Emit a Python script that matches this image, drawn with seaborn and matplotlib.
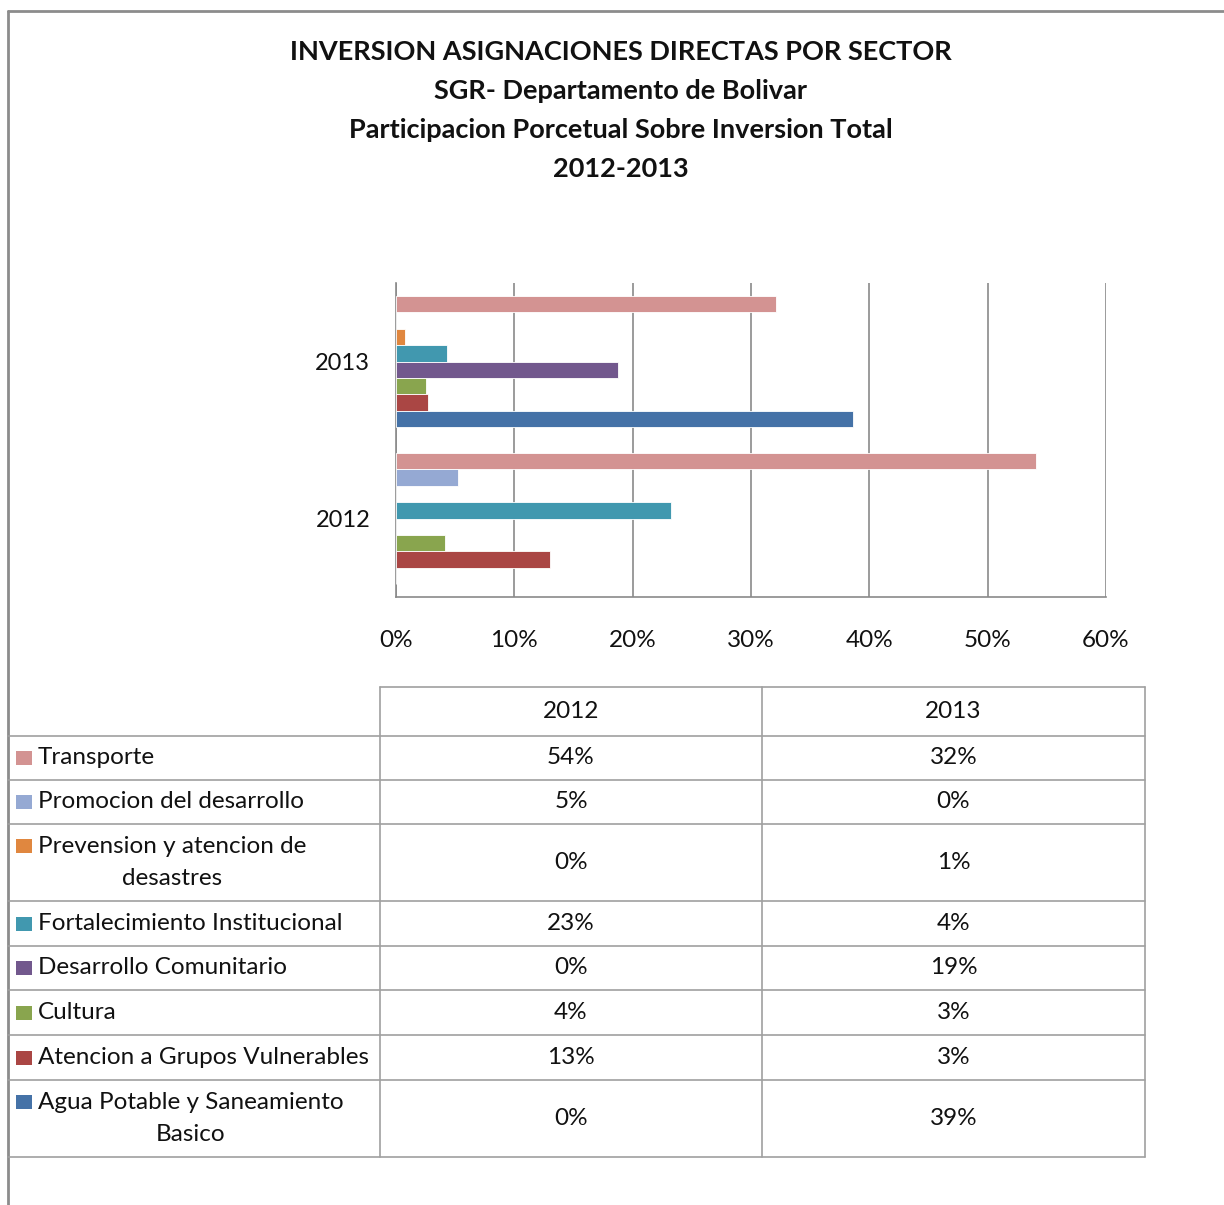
import matplotlib
matplotlib.use("Agg")
import matplotlib.pyplot as plt
import seaborn as sns
import pandas as pd
from matplotlib.lines import Line2D
from matplotlib.patches import Rectangle
from matplotlib.ticker import PercentFormatter

# ---- data ----
years = ["2012", "2013"]
sectors = [
    "Transporte",
    "Promocion del desarrollo",
    "Prevension y atencion de\ndesastres",
    "Fortalecimiento Institucional",
    "Desarrollo Comunitario",
    "Cultura",
    "Atencion a Grupos Vulnerables",
    "Agua Potable y Saneamiento\nBasico",
]
values_2012 = [54.1, 5.2, 0.0, 23.2, 0.0, 4.1, 13.0, 0.0]
values_2013 = [32.1, 0.0, 0.8, 4.3, 18.8, 2.55, 2.7, 38.6]
colors = ["#D39392", "#95A9D3", "#E0873F", "#4198AF",
          "#72588D", "#89A54E", "#AA4644", "#4572A7"]
xticks = [0, 10, 20, 30, 40, 50, 60]
title_lines = [
    "INVERSION ASIGNACIONES DIRECTAS POR SECTOR",
    "SGR- Departamento de Bolivar",
    "Participacion Porcetual Sobre Inversion Total",
    "2012-2013",
]

sns.set_theme(style="white")
plt.rcParams["font.family"] = ["Lato", "DejaVu Sans"]

W, H = 1224, 1205
fig = plt.figure(figsize=(W / 100, H / 100), dpi=100)

def fx(px):
    return px / W

def fy(py):
    return 1 - py / H

rows = []
for s, v12, v13 in zip(sectors, values_2012, values_2013):
    rows.append({"year": "2012", "sector": s, "value": v12})
    rows.append({"year": "2013", "sector": s, "value": v13})
df = pd.DataFrame(rows)

ax = fig.add_axes([fx(396), fy(597), fx(1106) - fx(396), fy(283) - fy(597)])
sns.barplot(data=df, x="value", y="year", hue="sector", order=["2013", "2012"],
            hue_order=sectors, palette=colors, saturation=1, orient="h", width=0.835,
            edgecolor="white", linewidth=0.6, legend=False, ax=ax, zorder=3)

ax.set_xlim(0, 60)
ax.set_xticks(xticks)
ax.xaxis.set_major_formatter(PercentFormatter(decimals=0))
ax.grid(axis="x", color="#8a8a8a", linewidth=1.2, zorder=0)
ax.grid(axis="y", visible=False)
ax.set_xlabel("")
ax.set_ylabel("")
for side in ["top", "right"]:
    ax.spines[side].set_visible(False)
for side in ["left", "bottom"]:
    ax.spines[side].set_color("#8a8a8a")
    ax.spines[side].set_linewidth(1.2)
ax.tick_params(axis="x", length=0, pad=24, labelsize=17.5, colors="#111111")
ax.tick_params(axis="y", length=0, pad=18.5, labelsize=17, colors="#111111")

# ---- title ----
for i, t in enumerate(title_lines):
    fig.text(fx(621), fy(52 + 39 * i), t, ha="center", va="center",
             fontsize=19.5, fontweight="bold", color="#111111")

# ---- frame ----
frame_c = "#8c8c8c"
fig.add_artist(Line2D([fx(8), fx(8)], [fy(11), fy(1205)], color=frame_c, lw=2,
                      transform=fig.transFigure))
fig.add_artist(Line2D([fx(8), fx(1224)], [fy(11), fy(11)], color=frame_c, lw=2,
                      transform=fig.transFigure))

# ---- data table ----
line_c = "#a0a0a0"
col_x = [8, 380, 762, 1145]
row_y = [687, 736, 780, 824, 901, 946, 990, 1035, 1080, 1157]

def hline(y, x0, x1):
    fig.add_artist(Line2D([fx(x0), fx(x1)], [fy(y), fy(y)], color=line_c, lw=1.2,
                          transform=fig.transFigure))

def vline(x, y0, y1):
    fig.add_artist(Line2D([fx(x), fx(x)], [fy(y0), fy(y1)], color=line_c, lw=1.2,
                          transform=fig.transFigure))

hline(row_y[0], col_x[1], col_x[3])
for y in row_y[1:]:
    hline(y, col_x[0], col_x[3])
for x in col_x[1:]:
    vline(x, row_y[0], row_y[-1])

tfs = 17.5
header_mid = (row_y[0] + row_y[1]) / 2
for j, yr in enumerate(years):
    cx = (col_x[j + 1] + col_x[j + 2]) / 2
    fig.text(fx(cx), fy(header_mid), yr, ha="center", va="center", fontsize=tfs,
             color="#111111")

for i, (s, c) in enumerate(zip(sectors, colors)):
    top, bot = row_y[i + 1], row_y[i + 2]
    mid = (top + bot) / 2
    nlines = s.count("\n") + 1
    first_y = mid - (nlines - 1) * 16.5
    fig.add_artist(Rectangle((fx(16), fy(first_y + 7)), fx(16), fy(0) - fy(14),
                             facecolor=c, edgecolor="none", transform=fig.transFigure))
    fig.text(fx(38), fy(mid), s, ha="left", va="center", multialignment="center",
             fontsize=tfs, color="#111111", linespacing=1.6)
    for j, vals in enumerate([values_2012, values_2013]):
        cx = (col_x[j + 1] + col_x[j + 2]) / 2
        fig.text(fx(cx), fy(mid), f"{vals[i]:.0f}%", ha="center", va="center",
                 fontsize=tfs, color="#111111")

fig.savefig("out.png", dpi=100, facecolor="white")
